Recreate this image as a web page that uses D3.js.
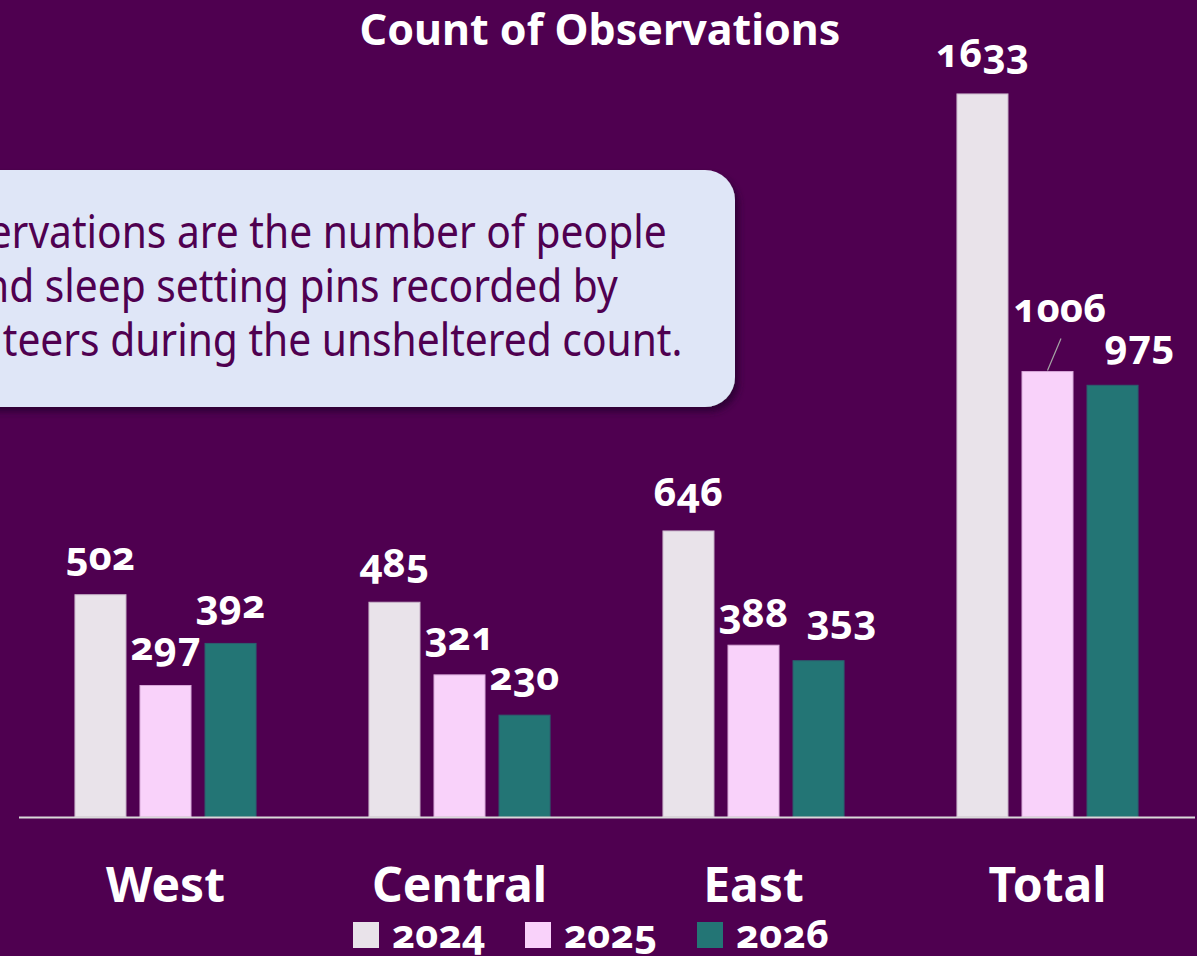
<!DOCTYPE html>
<html>
<head>
<meta charset="utf-8">
<script src="https://cdn.jsdelivr.net/npm/d3@7"></script>
<style>
  html, body { margin: 0; padding: 0; background: #4F0050; overflow: hidden; }
  svg { display: block; font-family: "Noto Sans", "Open Sans", sans-serif; }
  .num { font-variant-numeric: oldstyle-nums; font-feature-settings: "onum" 1; }
</style>
</head>
<body>
<svg id="chart" width="1197" height="956"></svg>
<script>
// Observation counts by region and survey year
const categories = ["West", "Central", "East", "Total"];
const years = ["2024", "2025", "2026"];
const values2024 = [502, 485, 646, 1633];
const values2025 = [297, 321, 388, 1006];
const values2026 = [392, 230, 353, 975];
const yearColors = ["#E9E3EA", "#F9D2FA", "#237575"];
const noteLines = [
  "Observations are the number of people",
  "and sleep setting pins recorded by",
  "volunteers during the unsheltered count."
];
const titleText = "Count of Observations";

const W = 1197, H = 956;
const BG = "#4F0050";
const svg = d3.select("#chart");
svg.append("rect").attr("width", W).attr("height", H).attr("fill", BG);

const series = [values2024, values2025, values2026];
const rows = categories.map((c, i) => ({
  category: c,
  bars: years.map((y, j) => ({ category: c, year: y, yi: j, value: series[j][i] }))
}));

// Scales
const baseY = 817;
const y = d3.scaleLinear().domain([0, 1800]).range([baseY, 20]);
const x0 = d3.scaleBand().domain(categories).range([18.5, 1194.5])
  .paddingInner(0.384).paddingOuter(0.192);
const x1 = d3.scaleBand().domain(years).range([0, x0.bandwidth()])
  .paddingInner(0.2154).paddingOuter(0);
const color = d3.scaleOrdinal().domain(years).range(yearColors);

// Callout note (drawn behind the bars)
const defs = svg.append("defs");
const sh = defs.append("filter").attr("id", "shadow")
  .attr("x", "-10%").attr("y", "-10%").attr("width", "130%").attr("height", "130%");
sh.append("feDropShadow").attr("dx", 4).attr("dy", 5).attr("stdDeviation", 3)
  .attr("flood-color", "#2a0030").attr("flood-opacity", 0.85);

const note = svg.append("g");
const boxL = -160, boxR = 735, boxT = 170, boxB = 407;
note.append("rect")
  .attr("x", boxL).attr("y", boxT)
  .attr("width", boxR - boxL).attr("height", boxB - boxT)
  .attr("rx", 30).attr("ry", 30)
  .attr("fill", "#DFE6F7")
  .attr("filter", "url(#shadow)");
const noteCx = (boxL + boxR) / 2 + 2;
const noteText = note.append("g");
noteText.selectAll("text").data(noteLines).join("text")
  .attr("x", 0)
  .attr("y", (d, i) => 248 + i * 54)
  .attr("text-anchor", "middle")
  .attr("font-size", 46)
  .attr("fill", "#4F0050")
  .text(d => d);
// condense the note text horizontally to the box's line width
const widest = d3.max(noteText.selectAll("text").nodes(), n => n.getComputedTextLength());
const sx = 786 / widest;
noteText.attr("transform", `translate(${noteCx},0) scale(${sx},1)`);

// Bars
const groups = svg.append("g").selectAll("g").data(rows).join("g")
  .attr("transform", d => `translate(${x0(d.category)},0)`);
groups.selectAll("rect").data(d => d.bars).join("rect")
  .attr("x", d => x1(d.year))
  .attr("y", d => y(d.value))
  .attr("width", x1.bandwidth())
  .attr("height", d => baseY - y(d.value))
  .attr("fill", d => color(d.year))
  .attr("stroke", d => d3.interpolateRgb(color(d.year), BG)(0.2))
  .attr("stroke-width", 1);

// Axis
const axis = svg.append("g").attr("transform", `translate(0,${baseY})`)
  .call(d3.axisBottom(x0).tickSize(0).tickSizeOuter(0));
axis.select(".domain").attr("stroke", "#D9D9D9").attr("stroke-width", 2);
axis.selectAll(".tick text")
  .attr("y", 85).attr("dy", 0)
  .attr("font-family", "Noto Sans, sans-serif")
  .attr("font-size", 48).attr("font-weight", 700)
  .attr("fill", "#FFFFFF");

// Value labels, with a few nudged clear of their neighbours
const nudge = {
  "East-2025": { dx: 0, dy: 7 },
  "East-2026": { dx: 23, dy: -3 },
  "Total-2024": { dx: 0, dy: -2 },
  "Total-2025": { dx: 12.5, dy: -25, leader: true },
  "Total-2026": { dx: 27, dy: -2 }
};
const allBars = rows.flatMap(r => r.bars).map(b => {
  const n = nudge[b.category + "-" + b.year] || { dx: 0, dy: 0 };
  const cx = x0(b.category) + x1(b.year) + x1.bandwidth() / 2;
  const top = y(b.value);
  return { ...b, cx, top, lx: cx + n.dx, ly: top - 25 + n.dy, leader: !!n.leader };
});
svg.append("g").selectAll("line").data(allBars.filter(d => d.leader)).join("line")
  .attr("x1", d => d.cx).attr("y1", d => d.top - 1)
  .attr("x2", d => d.lx + 1).attr("y2", d => d.ly + 17)
  .attr("stroke", "#A6A6A6").attr("stroke-width", 1.2);
svg.append("g").selectAll("text").data(allBars).join("text")
  .attr("class", "num")
  .attr("x", d => d.lx).attr("y", d => d.ly)
  .attr("text-anchor", "middle")
  .attr("font-size", 40).attr("font-weight", 700)
  .attr("fill", "#FFFFFF")
  .text(d => d.value);

// Title
svg.append("text")
  .attr("x", 600).attr("y", 45)
  .attr("text-anchor", "middle")
  .attr("font-size", 43).attr("font-weight", 700)
  .attr("fill", "#FFFFFF")
  .text(titleText);

// Legend
const legend = svg.append("g").selectAll("g").data(years).join("g")
  .attr("transform", (d, i) => `translate(${353 + i * 172},922)`);
legend.append("rect").attr("width", 26).attr("height", 26).attr("fill", d => color(d));
legend.append("text")
  .attr("class", "num")
  .attr("x", 39).attr("y", 26)
  .attr("font-size", 40).attr("font-weight", 700)
  .attr("fill", "#FFFFFF")
  .text(d => d);
</script>
</body>
</html>
